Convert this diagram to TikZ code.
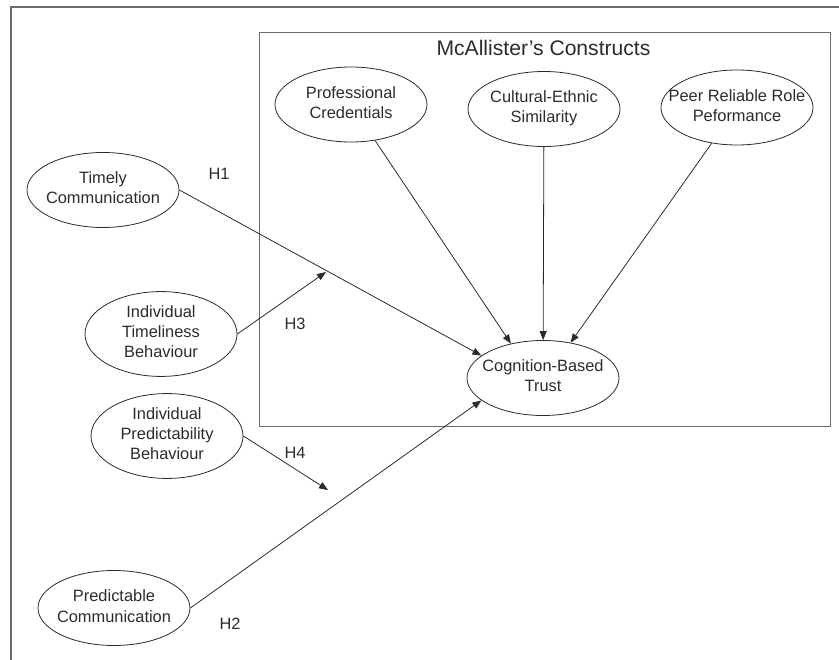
\documentclass[tikz,border=0pt]{standalone}
\usepackage{fontspec}
\setmainfont{Liberation Sans}
\usetikzlibrary{arrows.meta,shapes.geometric}
\definecolor{inkgray}{HTML}{2b2b2b}
\definecolor{framegray}{HTML}{6a6a6a}
\newcommand{\stacked}[1]{\makebox[0pt]{\begin{tabular}{@{}c@{}}#1\end{tabular}}}

\begin{document}
\begin{tikzpicture}[x=1pt, y=-1pt, >={Triangle[length=9pt,width=7pt]},
  font=\fontsize{16.4}{20}\selectfont, inkgray,
  construct/.style={ellipse, draw=inkgray, line width=0.8pt,
    minimum width=152pt, minimum height=75pt, inner sep=0pt},
  link/.style={->, inkgray, line width=0.8pt}]
  \useasboundingbox (0,0) rectangle (839,660);

  % page frame, runs off at right and bottom
  \draw[framegray, line width=1.2pt] (11,660) -- (11,7) -- (839,7);

  % McAllister's box
  \draw[framegray, line width=1pt] (259,33) rectangle (830,427);
  \node (title) at (543.5,48) {\fontsize{21.1}{24}\selectfont McAllister's Constructs};

  % constructs inside the box
  \node[construct] (prof)  at (351,104.5) {\stacked{Professional\\Credentials}};
  \node[construct] (cult)  at (544,109)   {\stacked{Cultural-Ethnic\\Similarity}};
  \node[construct] (peer)  at (737,107.5) {\stacked{Peer Reliable Role\\Peformance}};
  \node[construct] (trust) at (543,378)   {\stacked{Cognition-Based\\Trust}};

  % communication side
  \node[construct] (timely)  at (103,190) {\stacked{Timely\\Communication}};
  \node[construct] (indtime) at (161,334) {\stacked{Individual\\Timeliness\\Behaviour}};
  \node[construct] (indpred) at (167,436) {\stacked{Individual\\Predictability\\Behaviour}};
  \node[construct] (predict) at (114,608) {\stacked{Predictable\\Communication}};

  % loose ends of the moderator arrows
  \coordinate (h3tip) at (326,272);
  \coordinate (h4tip) at (328,490);

  \draw[link] (prof) -- (trust.133);
  \draw[link] (cult) -- (trust);
  \draw[link] (peer) -- (trust.52);
  \draw[link] (timely.east) -- (trust.160);
  \draw[link] (predict.east) -- (trust.200);
  \draw[link] (indtime.east) -- (h3tip);
  \draw[link] (indpred.east) -- (h4tip);

  % hypothesis labels
  \node (h1) at (219,174) {H1};
  \node (h3) at (295,324) {H3};
  \node (h4) at (295,453) {H4};
  \node (h2) at (230,624) {H2};
\end{tikzpicture}
\end{document}
